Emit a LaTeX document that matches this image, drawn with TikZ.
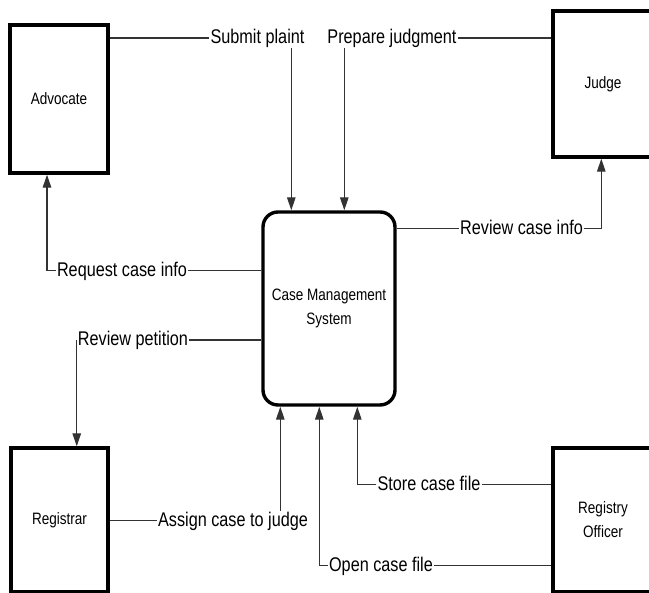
\documentclass[tikz,border=0pt]{standalone}
\usepackage{fontspec}
\newfontfamily\diagfont[FakeStretch=0.82]{Liberation Sans}
\usetikzlibrary{arrows.meta}

\tikzset{
    entity/.style = {draw, line width=3.4pt, inner sep=0pt, align=center,
        font=\diagfont\fontsize{16.5}{24}\selectfont},
    process/.style = {entity, rounded corners=15pt},
    flowlabel/.style = {inner sep=1pt, text height=14.5pt, text depth=3pt,
        font=\diagfont\fontsize{19.8}{22}\selectfont},
    wire/.style = {line width=1.3pt, draw=black!80},
    flow/.style = {wire, -{Triangle[length=13pt, width=8.5pt]}}
}

\begin{document}
\begin{tikzpicture}[x=1pt, y=-1pt]
    \useasboundingbox (0,0) rectangle (649,593);

    % Entities and the system
    \node[entity, minimum width=98pt, minimum height=148pt] (adv) at (59,99) {Advocate};
    \node[entity, minimum width=100pt, minimum height=146pt] (judge) at (603,84) {Judge};
    \node[entity, minimum width=97pt, minimum height=144pt] (reg) at (59.5,520) {Registrar};
    \node[entity, minimum width=100pt, minimum height=144pt] (ro) at (603,520) {Registry\\Officer};
    \node[process, minimum width=132pt, minimum height=193pt] (cms) at (329,308.5) {Case Management\\System};

    % Flow labels
    \node[flowlabel] (sp) at (257.5,38) {Submit plaint};
    \node[flowlabel] (pj) at (392,38) {Prepare judgment};
    \node[flowlabel] (rci) at (521.5,228.3) {Review case info};
    \node[flowlabel] (rqi) at (122,270.7) {Request case info};
    \node[flowlabel] (rp) at (133,340) {Review petition};
    \node[flowlabel] (acj) at (233,520.7) {Assign case to judge};
    \node[flowlabel] (scf) at (429,484.3) {Store case file};
    \node[flowlabel] (ocf) at (381,565.7) {Open case file};

    % Entry points on the system
    \coordinate (in1) at ([xshift=30pt]cms.north west);
    \coordinate (in2) at ([xshift=83pt]cms.north west);
    \coordinate (in3) at ([xshift=19pt]cms.south west);
    \coordinate (in4) at ([xshift=58pt]cms.south west);
    \coordinate (in5) at ([xshift=96pt]cms.south west);

    % Flows
    \draw[wire] (sp.west -| adv.east) -- (sp.west);
    \draw[flow] (sp.south -| in1) -- (in1);
    \draw[wire] (pj.east -| judge.west) -- (pj.east);
    \draw[flow] (pj.south -| in2) -- (in2);
    \draw[wire] (rci.west -| cms.east) -- (rci.west);
    \draw[flow] (rci.east) -| ([xshift=50pt]judge.south west);
    \draw[wire] (rqi.east -| cms.west) -- (rqi.east);
    \draw[flow] (rqi.west) -| ([xshift=-12pt]adv.south);
    \draw[wire] (rp.east -| cms.west) -- (rp.east);
    \draw[flow] (rp.west) -- (rp.west |- reg.north);
    \draw[wire] (acj.west -| reg.east) -- (acj.west);
    \draw[flow] (acj.north -| in3) -- (in3);
    \draw[wire] (scf.east -| ro.west) -- (scf.east);
    \draw[flow] (scf.west) -| (in5);
    \draw[wire] (ocf.east -| ro.west) -- (ocf.east);
    \draw[flow] (ocf.west) -| (in4);
\end{tikzpicture}
\end{document}
